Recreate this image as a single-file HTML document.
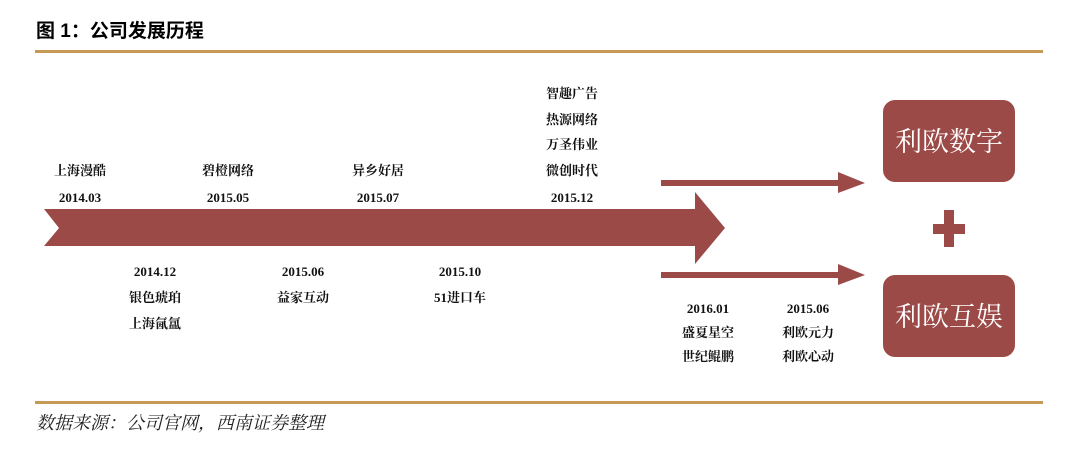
<!DOCTYPE html>
<html><head><meta charset="utf-8"><style>
body{margin:0;background:#fff}
svg{display:block}
text{font-family:"Liberation Serif","Noto Serif CJK SC",serif;font-size:13px;font-weight:bold;fill:#111;text-anchor:middle}
</style></head><body>
<svg width="1080" height="464" viewBox="0 0 1080 464">
<text x="36" y="37" style="font-family:'Liberation Sans','Noto Sans CJK SC',sans-serif;font-size:19px;font-weight:bold;text-anchor:start;fill:#000">图 1：公司发展历程</text>
<rect x="35" y="50" width="1008" height="3" fill="#c49a56"/>
<rect x="35" y="401" width="1008" height="3" fill="#c49a56"/>
<text x="36" y="429" style="font-family:'Liberation Serif','Noto Serif CJK SC',serif;font-size:18px;font-weight:normal;font-style:italic;text-anchor:start;fill:#222">数据来源：公司官网，西南证券整理</text>
<g fill="#9b4a47">
<polygon points="44,209 695,209 695,192 725,228 695,264 695,246 44,246 59,228"/>
<rect x="661" y="180" width="180" height="6"/>
<polygon points="838,172 865,183 838,193"/>
<rect x="661" y="272" width="180" height="6"/>
<polygon points="838,264 865,275 838,285"/>
<rect x="883" y="100" width="132" height="82" rx="12"/>
<rect x="883" y="275" width="132" height="82" rx="12"/>
<rect x="933" y="224" width="32" height="10"/>
<rect x="944" y="210" width="10" height="37"/>
</g>
<g style="font-size:27px;font-weight:normal;fill:#fff">
<text x="949" y="151" style="fill:#fff;font-size:27px;font-weight:normal">利欧数字</text>
<text x="949" y="326" style="fill:#fff;font-size:27px;font-weight:normal">利欧互娱</text>
</g>
<text x="80" y="175">上海漫酷</text><text x="80" y="202">2014.03</text>
<text x="228" y="175">碧橙网络</text><text x="228" y="202">2015.05</text>
<text x="378" y="175">异乡好居</text><text x="378" y="202">2015.07</text>
<text x="572" y="98">智趣广告</text><text x="572" y="124">热源网络</text><text x="572" y="149">万圣伟业</text><text x="572" y="175">微创时代</text><text x="572" y="202">2015.12</text>
<text x="155" y="276">2014.12</text><text x="155" y="302">银色琥珀</text><text x="155" y="328">上海氤氲</text>
<text x="303" y="276">2015.06</text><text x="303" y="302">益家互动</text>
<text x="460" y="276">2015.10</text><text x="460" y="302">51进口车</text>
<text x="708" y="313">2016.01</text><text x="708" y="337">盛夏星空</text><text x="708" y="361">世纪鲲鹏</text>
<text x="808" y="313">2015.06</text><text x="808" y="337">利欧元力</text><text x="808" y="361">利欧心动</text>
</svg>
</body></html>
